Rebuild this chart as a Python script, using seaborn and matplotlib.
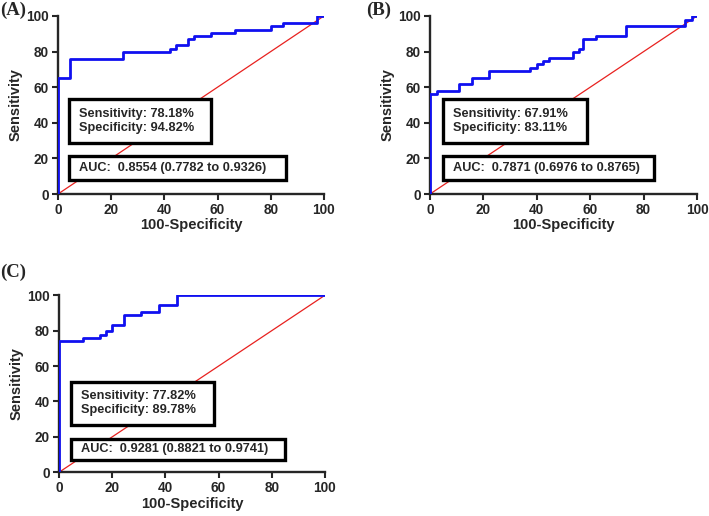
import matplotlib
matplotlib.use("Agg")
import matplotlib.pyplot as plt
from matplotlib.patches import Rectangle
import seaborn as sns
import pandas as pd

# Step points of each ROC curve (100-Specificity, Sensitivity)
fpr_a = [0, 0, 4.5, 24.5, 42, 44.5, 49, 51, 57.7, 66.5, 80, 84.5, 97.6, 100]
tpr_a = [0, 65, 76, 80, 81.5, 83.5, 87, 89, 90.7, 92.4, 94.4, 96, 100, 100]

fpr_b = [0, 0, 2.5, 11, 15.7, 22.2, 37.4, 40, 42.4, 44.4, 53.4, 55.7, 57.4, 62.2, 73.5, 95.6, 98.1, 100]
tpr_b = [0, 56, 58, 61.8, 65.3, 69, 70.9, 72.8, 74.5, 76.3, 79.8, 81.7, 87, 88.9, 94.4, 97.9, 100, 100]

fpr_c = [0, 0, 8.9, 15.6, 17.8, 20, 24.5, 31, 37.6, 44.5, 100]
tpr_c = [0, 74.3, 76.1, 77.7, 79.7, 83.3, 88.8, 90.7, 94.4, 100, 100]

panel_labels = ["(A)", "(B)", "(C)"]
sens_text = ["Sensitivity: 78.18%", "Sensitivity: 67.91%", "Sensitivity: 77.82%"]
spec_text = ["Specificity: 94.82%", "Specificity: 83.11%", "Specificity: 89.78%"]
auc_text = ["AUC:  0.8554 (0.7782 to 0.9326)",
            "AUC:  0.7871 (0.6976 to 0.8765)",
            "AUC:  0.9281 (0.8821 to 0.9741)"]
ticks = [0, 20, 40, 60, 80, 100]

sns.set_style("ticks")
plt.rcParams["font.family"] = ["Liberation Sans", "DejaVu Sans"]
plt.rcParams["font.weight"] = "bold"

fig = plt.figure(figsize=(7.09, 5.16), dpi=100)

axes_pos = [
    [0.0818, 0.624, 0.375, 0.345],
    [0.6065, 0.624, 0.3766, 0.345],
    [0.0832, 0.0847, 0.375, 0.343],
]
# box geometry in axes fraction: (x0, x1_sens, x1_auc, sens_y0, sens_y1, auc_y0, auc_y1, text_x)
boxes = [
    (0.041, 0.575, 0.857, 0.287, 0.534, 0.079, 0.213, 0.079),
    (0.048, 0.587, 0.840, 0.287, 0.534, 0.079, 0.213, 0.085),
    (0.045, 0.583, 0.850, 0.267, 0.512, 0.070, 0.188, 0.083),
]
label_pos = [(0.0, 0.997), (0.516, 0.997), (0.0, 0.489)]

curves = [(fpr_a, tpr_a), (fpr_b, tpr_b), (fpr_c, tpr_c)]

for i, (fx, ty) in enumerate(curves):
    ax = fig.add_axes(axes_pos[i])
    df = pd.DataFrame({"fpr": fx, "tpr": ty})
    # reference diagonal
    ax.plot([0, 100], [0, 100], color="#e8211f", lw=0.9, zorder=1)
    sns.lineplot(data=df, x="fpr", y="tpr", ax=ax, estimator=None, sort=False,
                 drawstyle="steps-post", color="#1010f0", lw=2.0, zorder=3)
    ax.set_xlim(0, 100)
    ax.set_ylim(0, 100)
    ax.set_xticks(ticks)
    ax.set_yticks(ticks)
    ax.tick_params(labelsize=9.8, width=1.5, length=4, direction="out", pad=2.5)
    for lab in ax.get_xticklabels() + ax.get_yticklabels():
        lab.set_fontweight("bold")
    for s in ["left", "bottom"]:
        ax.spines[s].set_linewidth(1.7)
    sns.despine(ax=ax)
    ax.set_xlabel("100-Specificity", fontsize=10.5, fontweight="bold", labelpad=1)
    ax.set_ylabel("Sensitivity", fontsize=10.5, fontweight="bold", labelpad=3)

    x0, x1s, x1a, sy0, sy1, ay0, ay1, tx = boxes[i]
    ax.add_patch(Rectangle((x0, sy0), x1s - x0, sy1 - sy0, transform=ax.transAxes,
                           fill=True, facecolor="white", edgecolor="black", lw=2.4, zorder=5))
    ax.add_patch(Rectangle((x0, ay0), x1a - x0, ay1 - ay0, transform=ax.transAxes,
                           fill=True, facecolor="white", edgecolor="black", lw=2.4, zorder=5))
    ax.text(tx, (sy0 + sy1) / 2, sens_text[i] + "\n" + spec_text[i], transform=ax.transAxes,
            ha="left", va="center", fontsize=9.2, fontweight="bold", linespacing=1.2, zorder=6)
    ax.text(tx, (ay0 + ay1) / 2, auc_text[i], transform=ax.transAxes,
            ha="left", va="center", fontsize=9.2, fontweight="bold", zorder=6)

    fig.text(label_pos[i][0], label_pos[i][1], panel_labels[i], ha="left", va="top",
             fontsize=13.5, fontweight="bold", family=["Liberation Serif", "DejaVu Serif"])

fig.savefig("out.png", dpi=100)
